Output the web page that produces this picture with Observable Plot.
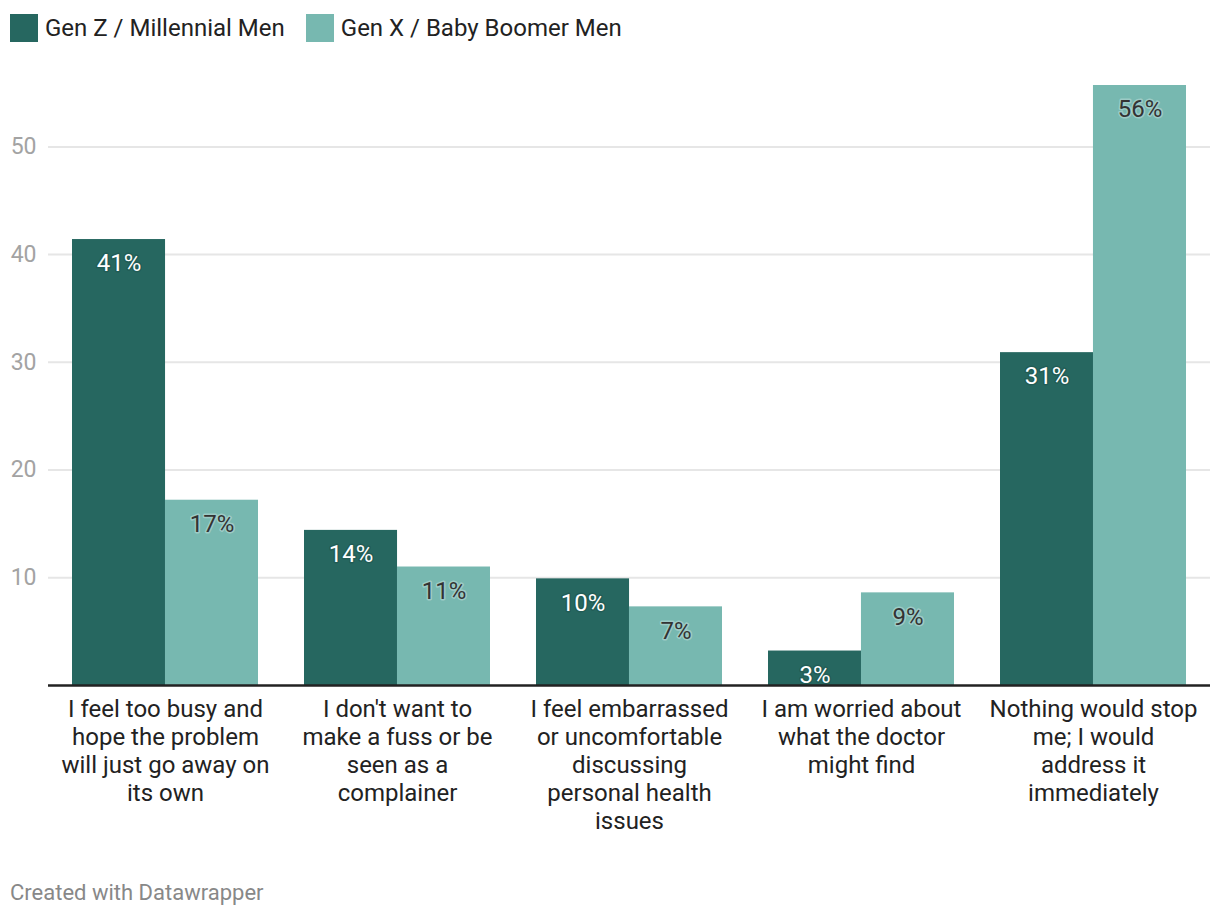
<!DOCTYPE html>
<html>
<head>
<meta charset="utf-8">
<script src="https://cdn.jsdelivr.net/npm/d3@7"></script>
<script src="https://cdn.jsdelivr.net/npm/@observablehq/plot@0.6"></script>
<style>
  html, body { margin: 0; padding: 0; background: #fff; }
  body { font-family: Roboto, "Noto Sans", sans-serif; width: 1220px; height: 918px; overflow: hidden; }
  #legend { height: 56px; display: flex; align-items: center; padding-left: 10px; font-size: 24px; color: #222; }
  .item { display: flex; align-items: center; margin-right: 21px; }
  .sw { width: 28px; height: 28px; margin-right: 7px; }
  #chart svg { display: block; }
  #caption { padding-top: 26px; padding-left: 10px; font-size: 22px; line-height: 22px; color: #888; }
</style>
</head>
<body>
<div id="legend"></div>
<div id="chart"></div>
<div id="caption">Created with Datawrapper</div>
<script>
const categories = [
  "I feel too busy and\nhope the problem\nwill just go away on\nits own",
  "I don't want to\nmake a fuss or be\nseen as a\ncomplainer",
  "I feel embarrassed\nor uncomfortable\ndiscussing\npersonal health\nissues",
  "I am worried about\nwhat the doctor\nmight find",
  "Nothing would stop\nme; I would\naddress it\nimmediately"
];
const seriesNames = ["Gen Z / Millennial Men", "Gen X / Baby Boomer Men"];
const genZMillennial = [41.4, 14.4, 9.9, 3.2, 30.9];
const genXBoomer = [17.2, 11.0, 7.3, 8.6, 55.7];
const seriesColors = ["#266760", "#77b8b0"];
const yTicks = [10, 20, 30, 40, 50];

// legend
const legend = document.getElementById("legend");
seriesNames.forEach((name, i) => {
  const item = document.createElement("div");
  item.className = "item";
  const sw = document.createElement("div");
  sw.className = "sw";
  sw.style.background = seriesColors[i];
  const label = document.createElement("span");
  label.textContent = name;
  item.appendChild(sw);
  item.appendChild(label);
  legend.appendChild(item);
});

const rowsZ = categories.map((c, i) => ({category: c, value: genZMillennial[i]}));
const rowsX = categories.map((c, i) => ({category: c, value: genXBoomer[i]}));
const pct = d => Math.round(d.value) + "%";

const W = 1220, ML = 48, MR = 10;
const half = ((W - ML - MR) / 5) * 0.8 / 2;

const chart = Plot.plot({
  width: W,
  height: 800,
  marginLeft: ML,
  marginRight: MR,
  marginTop: 29,
  marginBottom: 171,
  style: {fontFamily: "Roboto, sans-serif", fontSize: "24px", background: "#fff"},
  x: {domain: categories, paddingInner: 0.2, paddingOuter: 0.1, label: null},
  y: {domain: [0, 55.7], label: null},
  marks: [
    Plot.gridY(yTicks, {stroke: "#e6e6e6", strokeOpacity: 1, strokeWidth: 2}),
    Plot.axisY(yTicks, {tickSize: 0, tickPadding: 12, fontSize: 23, fill: "#a3a3a3", label: null}),
    Plot.barY(rowsZ, {x: "category", y: "value", fill: seriesColors[0], insetRight: half}),
    Plot.barY(rowsX, {x: "category", y: "value", fill: seriesColors[1], insetLeft: half}),
    Plot.ruleY([0], {stroke: "#222", strokeWidth: 2.5}),
    Plot.axisX({tickSize: 0, tickPadding: 12, fontSize: 24, fill: "#222", lineHeight: 1.167, label: null}),
    Plot.text(rowsZ, {x: "category", y: "value", text: pct, dx: -half / 2, dy: 24, fontSize: 24,
      fill: "#fff", stroke: "#123b36", strokeOpacity: 0.25, strokeWidth: 3, paintOrder: "stroke"}),
    Plot.text(rowsX, {x: "category", y: "value", text: pct, dx: half / 2, dy: 24, fontSize: 24,
      fill: "#333", stroke: "#fff", strokeOpacity: 0.3, strokeWidth: 3, paintOrder: "stroke"})
  ]
});
document.getElementById("chart").appendChild(chart);
</script>
</body>
</html>
